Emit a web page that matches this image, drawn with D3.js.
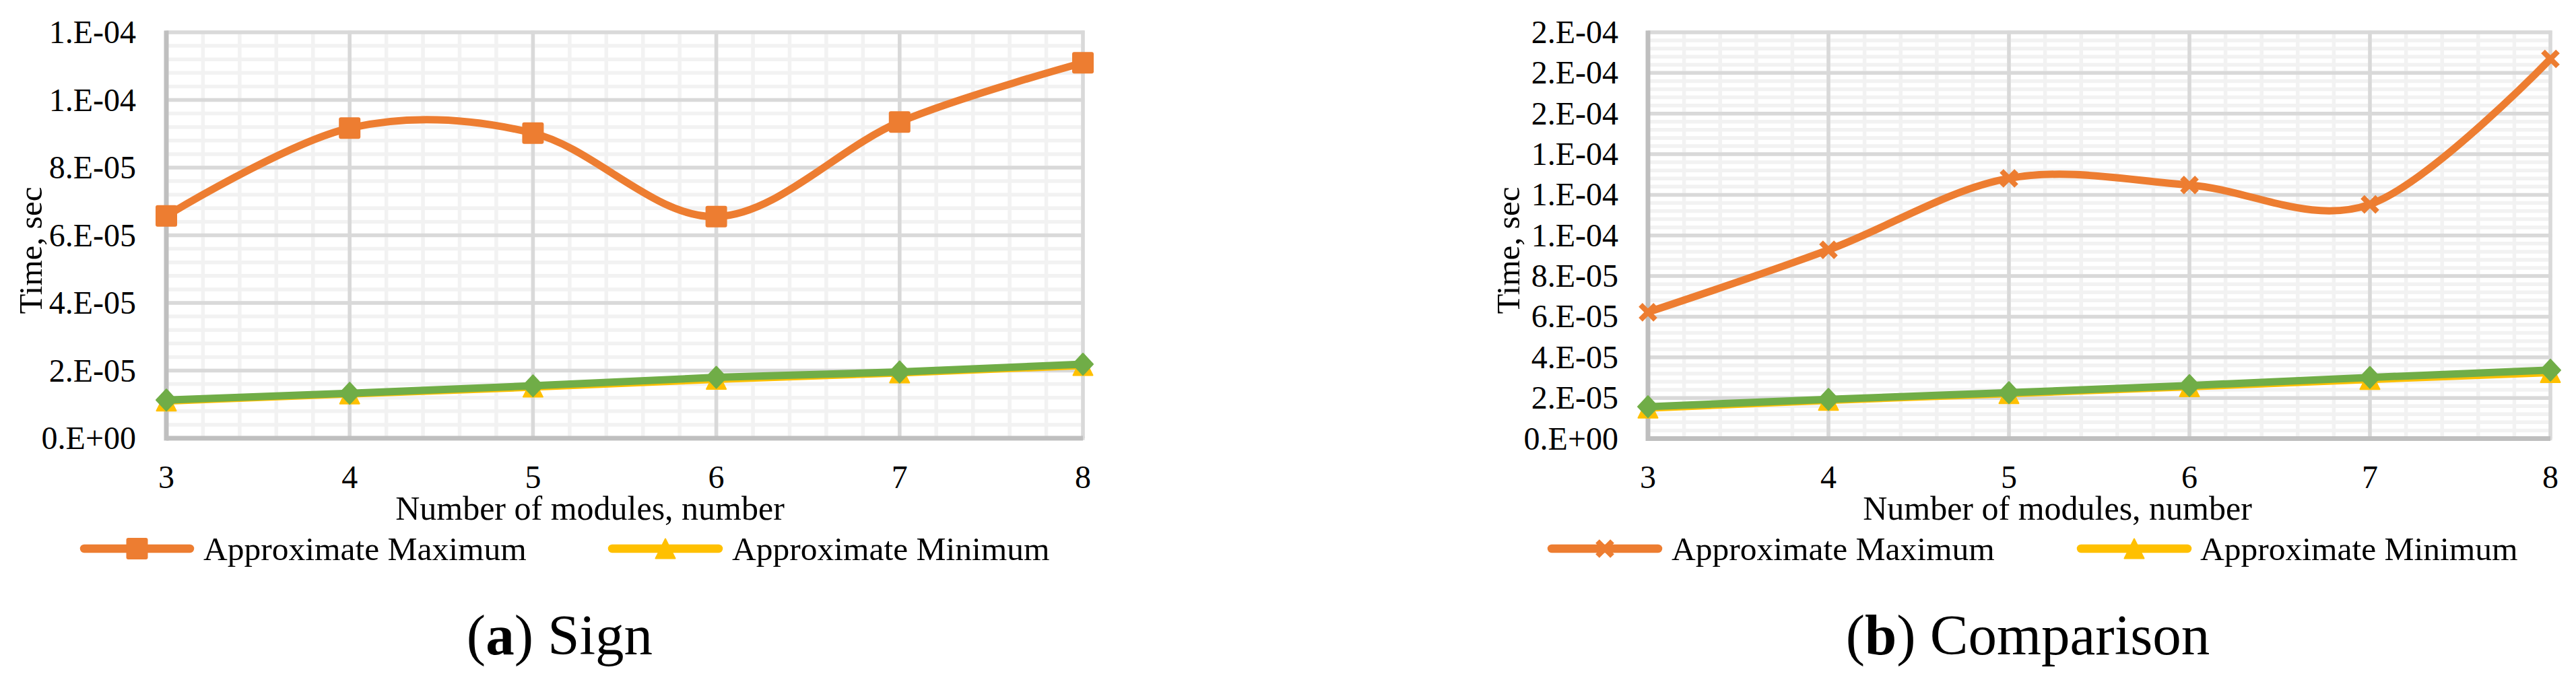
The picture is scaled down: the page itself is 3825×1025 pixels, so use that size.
<!DOCTYPE html>
<html>
<head>
<meta charset="utf-8">
<script src="https://cdn.jsdelivr.net/npm/d3@7"></script>
<style>
  html, body { margin: 0; padding: 0; background: #fff; }
  svg text { font-family: "Liberation Serif", "Times New Roman", serif; fill: #000; }
</style>
</head>
<body>
<div id="chart"></div>
<script>
// categories on the x axis
var modules = [3, 4, 5, 6, 7, 8];

// (a) Sign, time in seconds
var signMax = [6.57e-5, 9.17e-5, 9.02e-5, 6.55e-5, 9.35e-5, 1.11e-4];
var signMin = [1.10e-5, 1.31e-5, 1.51e-5, 1.74e-5, 1.93e-5, 2.15e-5];
var signAvg = [1.13e-5, 1.33e-5, 1.55e-5, 1.80e-5, 1.96e-5, 2.19e-5];
var signYTicks = [0, 2e-5, 4e-5, 6e-5, 8e-5, 1e-4, 1.2e-4];

// (b) Comparison, time in seconds
var cmpMax = [6.22e-5, 9.29e-5, 1.281e-4, 1.248e-4, 1.153e-4, 1.869e-4];
var cmpMin = [1.50e-5, 1.88e-5, 2.21e-5, 2.55e-5, 2.91e-5, 3.25e-5];
var cmpAvg = [1.57e-5, 1.93e-5, 2.26e-5, 2.61e-5, 3.01e-5, 3.37e-5];
var cmpYTicks = [0, 2e-5, 4e-5, 6e-5, 8e-5, 1e-4, 1.2e-4, 1.4e-4, 1.6e-4, 1.8e-4, 2e-4];

var legendNames = ["Approximate Maximum", "Approximate Minimum"];
var xTitle = "Number of modules, number";
var yTitle = "Time, sec";

var ORANGE = "#ED7D31", YELLOW = "#FFC000", GREEN = "#70AD47";

var W = 3825, H = 1025;
var svg = d3.select("#chart").append("svg")
  .attr("width", W)
  .attr("height", H);
svg.append("rect").attr("width", W).attr("height", H).attr("fill", "#fff");

// Excel style "0.E+00" number format
function excelExp(v) {
  var s = v.toExponential(0).split("e");
  var e = +s[1];
  return s[0] + ".E" + (e < 0 ? "-" : "+") + String(Math.abs(e)).padStart(2, "0");
}

function drawMarker(g, type, cx, cy, color) {
  if (type == "square") {
    g.append("rect")
      .attr("x", cx - 16).attr("y", cy - 16)
      .attr("width", 32).attr("height", 32)
      .attr("rx", 3)
      .attr("fill", color);
  } else if (type == "diamond") {
    g.append("path")
      .attr("d", "M0,-16L15,0L0,16L-15,0Z")
      .attr("transform", "translate(" + cx + "," + cy + ")")
      .attr("fill", color)
      .attr("stroke", color).attr("stroke-width", 2).attr("stroke-linejoin", "round");
  } else if (type == "triangle") {
    g.append("path")
      .attr("d", "M0,-14.5L14.5,14.5L-14.5,14.5Z")
      .attr("transform", "translate(" + cx + "," + cy + ")")
      .attr("fill", color)
      .attr("stroke", color).attr("stroke-width", 2).attr("stroke-linejoin", "round");
  } else if (type == "x") {
    g.append("path")
      .attr("d", "M-11,-11L11,11M11,-11L-11,11")
      .attr("transform", "translate(" + cx + "," + cy + ")")
      .attr("fill", "none")
      .attr("stroke", color).attr("stroke-width", 8);
  }
}

function drawPanel(p) {
  var g = svg.append("g");

  var x = d3.scaleLinear().domain([modules[0], modules[modules.length - 1]]).range([p.left, p.right]);
  var yMax = p.ticks[p.ticks.length - 1];
  var y = d3.scaleLinear().domain([0, yMax]).range([p.bottom, p.top]);
  var step = p.ticks[1] - p.ticks[0];

  // minor gridlines
  var minorY = d3.range(0, yMax + step / 10, step / 5);
  var minorX = d3.range(modules[0], modules[modules.length - 1] + 0.01, 0.2);
  g.selectAll(".minor-x").data(minorX).enter().append("line")
    .attr("x1", d => x(d)).attr("x2", d => x(d))
    .attr("y1", p.top).attr("y2", p.bottom)
    .attr("stroke", "#F2F2F2").attr("stroke-width", 5.5);
  g.selectAll(".minor-y").data(minorY).enter().append("line")
    .attr("x1", p.left).attr("x2", p.right)
    .attr("y1", d => y(d)).attr("y2", d => y(d))
    .attr("stroke", "#F2F2F2").attr("stroke-width", 5.5);

  // major gridlines
  g.selectAll(".major-x").data(modules).enter().append("line")
    .attr("x1", d => x(d)).attr("x2", d => x(d))
    .attr("y1", p.top - 2.5).attr("y2", p.bottom)
    .attr("stroke", "#D9D9D9").attr("stroke-width", 5.5);
  g.selectAll(".major-y").data(p.ticks).enter().append("line")
    .attr("x1", p.left).attr("x2", p.right + 2.5)
    .attr("y1", d => y(d)).attr("y2", d => y(d))
    .attr("stroke", "#D9D9D9").attr("stroke-width", 5.5);

  // axis lines
  g.append("line")
    .attr("x1", p.left).attr("x2", p.left)
    .attr("y1", p.top - 2.5).attr("y2", p.bottom + 3.5)
    .attr("stroke", "#BFBFBF").attr("stroke-width", 7);
  g.append("line")
    .attr("x1", p.left).attr("x2", p.right)
    .attr("y1", p.bottom).attr("y2", p.bottom)
    .attr("stroke", "#BFBFBF").attr("stroke-width", 7);

  // y tick labels
  g.selectAll(".ylab").data(p.ticks).enter().append("text")
    .attr("x", p.yLabelRight)
    .attr("y", d => y(d) + 16)
    .attr("text-anchor", "end")
    .style("font-size", "48px")
    .text(d => excelExp(d));

  // x tick labels
  g.selectAll(".xlab").data(modules).enter().append("text")
    .attr("x", d => x(d))
    .attr("y", 725)
    .attr("text-anchor", "middle")
    .style("font-size", "48px")
    .text(d => d);

  // axis titles
  g.append("text")
    .attr("x", p.xTitleX).attr("y", 772)
    .attr("text-anchor", "middle")
    .style("font-size", "50px")
    .text(xTitle);
  g.append("text")
    .attr("transform", "translate(" + p.yTitleX + ",372) rotate(-90)")
    .attr("text-anchor", "middle")
    .style("font-size", "49px")
    .text(yTitle);

  // series
  p.series.forEach(function(s) {
    var pts = modules.map((m, i) => [x(m), y(s.values[i])]);
    g.append("path")
      .attr("d", d3.line().curve(s.smooth ? d3.curveCatmullRom.alpha(0) : d3.curveLinear)(pts))
      .attr("fill", "none")
      .attr("stroke", s.color)
      .attr("stroke-width", 11)
      .attr("stroke-linecap", "round")
      .attr("stroke-linejoin", "round");
    pts.forEach(function(pt) { drawMarker(g, s.marker, pt[0], pt[1], s.color); });
  });

  // legend (only the two named series)
  p.legend.forEach(function(l, i) {
    var s = p.series[i];
    g.append("line")
      .attr("x1", l.x1 + 6).attr("x2", l.x2 - 6)
      .attr("y1", 815).attr("y2", 815)
      .attr("stroke", s.color).attr("stroke-width", 12.5)
      .attr("stroke-linecap", "round");
    drawMarker(g, s.marker, (l.x1 + l.x2) / 2, 815, s.color);
    g.append("text")
      .attr("x", l.tx).attr("y", 832)
      .style("font-size", "49.5px")
      .text(legendNames[i]);
  });

  // caption
  var cap = g.append("text")
    .attr("x", p.captionX).attr("y", 972)
    .attr("text-anchor", "middle")
    .style("font-size", "85px");
  cap.append("tspan").text("(");
  cap.append("tspan").style("font-weight", "bold").text(p.letter);
  cap.append("tspan").text(") " + p.caption);
}

drawPanel({
  left: 247, right: 1608, top: 48, bottom: 651,
  ticks: signYTicks,
  yLabelRight: 202, yTitleX: 62, xTitleX: 876,
  series: [
    { values: signMax, color: ORANGE, marker: "square", smooth: true },
    { values: signMin, color: YELLOW, marker: "triangle" },
    { values: signAvg, color: GREEN, marker: "diamond" }
  ],
  legend: [ { x1: 119, x2: 288, tx: 302 }, { x1: 903, x2: 1073, tx: 1087 } ],
  letter: "a", caption: "Sign", captionX: 831
});

drawPanel({
  left: 2447, right: 3787, top: 48, bottom: 651.5,
  ticks: cmpYTicks,
  yLabelRight: 2403, yTitleX: 2256, xTitleX: 3055,
  series: [
    { values: cmpMax, color: ORANGE, marker: "x", smooth: true },
    { values: cmpMin, color: YELLOW, marker: "triangle" },
    { values: cmpAvg, color: GREEN, marker: "diamond" }
  ],
  legend: [ { x1: 2298, x2: 2468, tx: 2482 }, { x1: 3084, x2: 3254, tx: 3267 } ],
  letter: "b", caption: "Comparison", captionX: 3011
});
</script>
</body>
</html>
